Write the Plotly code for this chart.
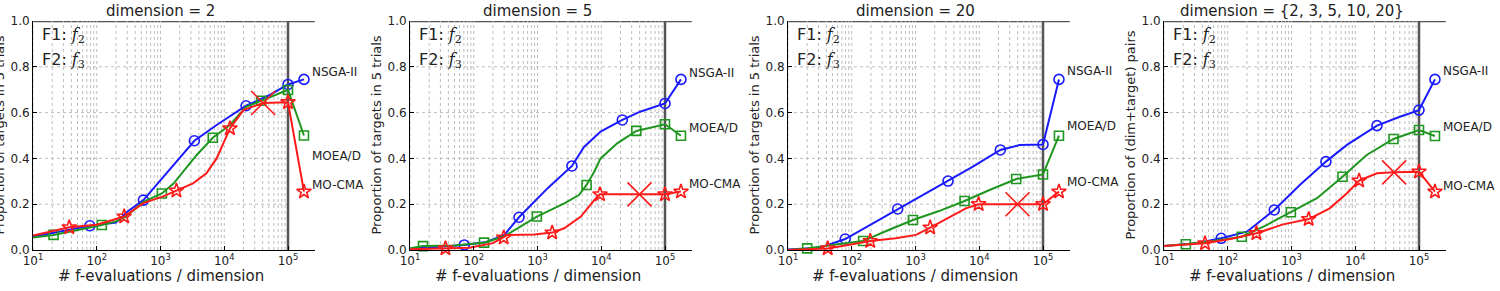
import plotly.graph_objects as go

# ---------------- data ----------------
PANEL_TITLES = ["dimension = 2", "dimension = 5", "dimension = 20", "dimension = {2, 3, 5, 10, 20}"]
Y_TITLES = ["Proportion of targets in 5 trials", "Proportion of targets in 5 trials",
            "Proportion of targets in 5 trials", "Proportion of (dim+target) pairs"]
ALGS = ["NSGA-II", "MOEA/D", "MO-CMA"]
X_TICKVALS = [10, 100, 1000, 10000, 100000]
X_TICKTEXT = ["10<sup>1</sup>", "10<sup>2</sup>", "10<sup>3</sup>", "10<sup>4</sup>", "10<sup>5</sup>"]
Y_TICKVALS = [0.0, 0.2, 0.4, 0.6, 0.8, 1.0]
Y_TICKTEXT = ["0.0", "0.2", "0.4", "0.6", "0.8", "1.0"]
BUDGET = 100000

# dimension = 2
D2_NSGA_X = [10, 78, 200, 300, 540, 1400, 3400, 7600, 22000, 52000, 100000, 178000]
D2_NSGA_Y = [0.058, 0.106, 0.12, 0.167, 0.218, 0.35, 0.477, 0.546, 0.63, 0.677, 0.723, 0.745]
D2_NSGA_MX = [78, 540, 3400, 22000, 100000, 178000]
D2_NSGA_MY = [0.106, 0.218, 0.477, 0.63, 0.723, 0.745]
D2_MOEA_X = [10, 21, 120, 200, 282, 540, 1050, 1600, 3700, 6600, 12300, 22000, 40700, 100000, 178000]
D2_MOEA_Y = [0.055, 0.066, 0.109, 0.125, 0.145, 0.21, 0.247, 0.29, 0.415, 0.49, 0.546, 0.625, 0.655, 0.699, 0.5]
D2_MOEA_MX = [21, 120, 1050, 6600, 38000, 100000, 178000]
D2_MOEA_MY = [0.066, 0.109, 0.247, 0.49, 0.652, 0.699, 0.5]
D2_MOCMA_X = [10, 37, 100, 269, 537, 1100, 1780, 3240, 5250, 7590, 12300, 20000, 40700, 100000, 178000]
D2_MOCMA_Y = [0.063, 0.099, 0.11, 0.146, 0.205, 0.234, 0.259, 0.291, 0.335, 0.40, 0.531, 0.611, 0.642, 0.645, 0.255]
D2_MOCMA_MX = [37, 269, 1780, 12300, 100000, 178000]
D2_MOCMA_MY = [0.099, 0.146, 0.259, 0.531, 0.645, 0.255]
D2_CROSS = [40700, 0.642]

# dimension = 5
D5_NSGA_X = [10, 71, 158, 302, 513, 1445, 3470, 5370, 9770, 21400, 40700, 100000, 178000]
D5_NSGA_Y = [0.005, 0.022, 0.035, 0.066, 0.143, 0.27, 0.367, 0.45, 0.517, 0.568, 0.604, 0.64, 0.745]
D5_NSGA_MX = [71, 513, 3470, 21400, 100000, 178000]
D5_NSGA_MY = [0.022, 0.143, 0.367, 0.568, 0.64, 0.745]
D5_MOEA_X = [10, 16, 50, 145, 302, 977, 2630, 4470, 5890, 7760, 9770, 17800, 35500, 100000, 178000]
D5_MOEA_Y = [0.008, 0.017, 0.02, 0.032, 0.06, 0.146, 0.204, 0.24, 0.284, 0.342, 0.40, 0.466, 0.52, 0.549, 0.499]
D5_MOEA_MX = [16, 145, 977, 5890, 35500, 100000, 178000]
D5_MOEA_MY = [0.017, 0.032, 0.146, 0.284, 0.52, 0.549, 0.499]
D5_MOCMA_X = [10, 36, 85, 200, 295, 339, 891, 1700, 2630, 4790, 7760, 9550, 100000, 178000]
D5_MOCMA_Y = [0.003, 0.007, 0.01, 0.03, 0.054, 0.066, 0.068, 0.076, 0.095, 0.146, 0.218, 0.243, 0.243, 0.255]
D5_MOCMA_MX = [36, 295, 1700, 9550, 100000, 178000]
D5_MOCMA_MY = [0.007, 0.054, 0.076, 0.243, 0.243, 0.255]
D5_CROSS = [39800, 0.243]

# dimension = 20
D20_NSGA_X = [10, 32, 79, 191, 525, 1445, 3240, 7940, 21400, 42700, 100000, 178000]
D20_NSGA_Y = [0.002, 0.01, 0.048, 0.109, 0.179, 0.248, 0.301, 0.364, 0.437, 0.458, 0.461, 0.745]
D20_NSGA_MX = [79, 525, 3240, 21400, 100000, 178000]
D20_NSGA_MY = [0.048, 0.179, 0.301, 0.437, 0.461, 0.745]
D20_MOEA_X = [10, 20, 42, 151, 347, 912, 2340, 5890, 14500, 38000, 100000, 178000]
D20_MOEA_Y = [0.0, 0.007, 0.02, 0.039, 0.083, 0.131, 0.17, 0.214, 0.262, 0.31, 0.33, 0.499]
D20_MOEA_MX = [20, 151, 912, 5890, 38000, 100000, 178000]
D20_MOEA_MY = [0.007, 0.039, 0.131, 0.214, 0.31, 0.33, 0.499]
D20_MOCMA_X = [10, 42, 102, 195, 490, 1020, 1700, 2690, 3800, 6170, 9770, 100000, 178000]
D20_MOCMA_Y = [0.0, 0.007, 0.025, 0.039, 0.051, 0.066, 0.098, 0.127, 0.15, 0.182, 0.2, 0.2, 0.255]
D20_MOCMA_MX = [42, 195, 1700, 9770, 100000, 178000]
D20_MOCMA_MY = [0.007, 0.039, 0.098, 0.2, 0.2, 0.255]
D20_CROSS = [39800, 0.2]

# dimension = all
DA_NSGA_X = [10, 32, 79, 200, 537, 1350, 3470, 7410, 21900, 50100, 100000, 178000]
DA_NSGA_Y = [0.017, 0.03, 0.051, 0.08, 0.175, 0.284, 0.386, 0.459, 0.543, 0.582, 0.611, 0.745]
DA_NSGA_MX = [79, 537, 3470, 21900, 100000, 178000]
DA_NSGA_MY = [0.051, 0.175, 0.386, 0.543, 0.611, 0.745]
DA_MOEA_X = [10, 22, 59, 166, 407, 977, 2510, 6310, 15100, 39800, 100000, 178000]
DA_MOEA_Y = [0.017, 0.025, 0.039, 0.058, 0.109, 0.165, 0.226, 0.32, 0.415, 0.485, 0.524, 0.498]
DA_MOEA_MX = [22, 166, 977, 6310, 39800, 100000, 178000]
DA_MOEA_MY = [0.025, 0.058, 0.165, 0.32, 0.485, 0.524, 0.498]
DA_MOCMA_X = [10, 44, 110, 282, 741, 1860, 3980, 7410, 11500, 21900, 40700, 100000, 178000]
DA_MOCMA_Y = [0.017, 0.029, 0.048, 0.073, 0.112, 0.135, 0.182, 0.248, 0.303, 0.335, 0.339, 0.342, 0.255]
DA_MOCMA_MX = [44, 282, 1860, 11500, 100000, 178000]
DA_MOCMA_MY = [0.029, 0.073, 0.135, 0.303, 0.342, 0.255]
DA_CROSS = [40700, 0.339]

# label heights (right of each panel)
LABEL_Y = [[0.777, 0.41, 0.284], [0.774, 0.531, 0.287], [0.783, 0.541, 0.298], [0.783, 0.535, 0.28]]

PANELS = [
    [(D2_NSGA_X, D2_NSGA_Y, D2_NSGA_MX, D2_NSGA_MY), (D2_MOEA_X, D2_MOEA_Y, D2_MOEA_MX, D2_MOEA_MY),
     (D2_MOCMA_X, D2_MOCMA_Y, D2_MOCMA_MX, D2_MOCMA_MY), D2_CROSS],
    [(D5_NSGA_X, D5_NSGA_Y, D5_NSGA_MX, D5_NSGA_MY), (D5_MOEA_X, D5_MOEA_Y, D5_MOEA_MX, D5_MOEA_MY),
     (D5_MOCMA_X, D5_MOCMA_Y, D5_MOCMA_MX, D5_MOCMA_MY), D5_CROSS],
    [(D20_NSGA_X, D20_NSGA_Y, D20_NSGA_MX, D20_NSGA_MY), (D20_MOEA_X, D20_MOEA_Y, D20_MOEA_MX, D20_MOEA_MY),
     (D20_MOCMA_X, D20_MOCMA_Y, D20_MOCMA_MX, D20_MOCMA_MY), D20_CROSS],
    [(DA_NSGA_X, DA_NSGA_Y, DA_NSGA_MX, DA_NSGA_MY), (DA_MOEA_X, DA_MOEA_Y, DA_MOEA_MX, DA_MOEA_MY),
     (DA_MOCMA_X, DA_MOCMA_Y, DA_MOCMA_MX, DA_MOCMA_MY), DA_CROSS],
]

# ---------------- style ----------------
W, H = 1500, 291
COLORS = ["#1a1aff", "#1f961f", "#ff1a1a"]
SYMBOLS = ["circle-open", "square-open", "star-open"]
MSIZES = [10, 9, 11]
FONT = "DejaVu Sans, Liberation Sans, sans-serif"
LEFT_PX = [33, 410, 788, 1164]
PX_PER_DEC = 63.75
XMIN_LOG, XMAX_LOG = 1.0, 5.42
TOP_PX, BOT_PX = 21, 250

fig = go.Figure()
shapes = []
annotations = []

grid_x = [m * 10 ** d for d in range(1, 5) for m in range(1, 10)] + [100000]

for i, panel in enumerate(PANELS):
    n = i + 1
    xa = "x" if n == 1 else f"x{n}"
    ya = "y" if n == 1 else f"y{n}"
    for a in range(3):
        lx, ly, mx, my = panel[a]
        fig.add_trace(go.Scatter(x=lx, y=ly, mode="lines", xaxis=xa, yaxis=ya,
                                 line=dict(color=COLORS[a], width=2), showlegend=False,
                                 cliponaxis=False, hoverinfo="skip"))
        fig.add_trace(go.Scatter(x=mx, y=my, mode="markers", xaxis=xa, yaxis=ya,
                                 marker=dict(symbol=SYMBOLS[a], size=MSIZES[a], color=COLORS[a],
                                             line=dict(color=COLORS[a], width=1.6)),
                                 showlegend=False, cliponaxis=False, name=ALGS[a]))
    cx, cy = panel[3]
    fig.add_trace(go.Scatter(x=[cx], y=[cy], mode="markers", xaxis=xa, yaxis=ya,
                             marker=dict(symbol="x-thin", size=24, color=COLORS[2],
                                         line=dict(color=COLORS[2], width=1.6)),
                             showlegend=False, cliponaxis=False))

    x0 = LEFT_PX[i]
    x1 = x0 + (XMAX_LOG - XMIN_LOG) * PX_PER_DEC
    layout_x = dict(type="log", range=[XMIN_LOG, XMAX_LOG], domain=[x0 / W, x1 / W],
                    anchor=ya, showgrid=False, zeroline=False, showline=True, automargin=False,
                    linecolor="black", linewidth=1, ticks="inside", ticklen=4,
                    tickcolor="black", tickvals=X_TICKVALS, ticktext=X_TICKTEXT,
                    tickfont=dict(size=12, color="#222", family=FONT))
    layout_y = dict(range=[0, 1], domain=[(H - BOT_PX) / H, (H - TOP_PX) / H], anchor=xa,
                    showgrid=False, zeroline=False, showline=True, linecolor="black",
                    linewidth=1, ticks="inside", ticklen=4, tickcolor="black", automargin=False,
                    tickvals=Y_TICKVALS, ticktext=Y_TICKTEXT,
                    tickfont=dict(size=12, color="#222", family=FONT))
    fig.update_layout({("xaxis" if n == 1 else f"xaxis{n}"): layout_x,
                       ("yaxis" if n == 1 else f"yaxis{n}"): layout_y})

    # grid lines (only up to the budget)
    for gx in grid_x:
        shapes.append(dict(type="line", xref=xa, yref=ya, x0=gx, x1=gx, y0=0, y1=1,
                           line=dict(color="#bdbdbd", width=1, dash="dot"), layer="below"))
    for gy in [0.2, 0.4, 0.6, 0.8]:
        shapes.append(dict(type="line", xref=xa, yref=ya, x0=10, x1=BUDGET, y0=gy, y1=gy,
                           line=dict(color="#bdbdbd", width=1, dash="dot"), layer="below"))
    # budget line and top line
    shapes.append(dict(type="line", xref=xa, yref=ya, x0=BUDGET, x1=BUDGET, y0=0, y1=1,
                       line=dict(color="#555555", width=2.5), layer="below"))
    shapes.append(dict(type="line", xref=f"{xa} domain", yref=ya, x0=0, x1=1, y0=1, y1=1,
                       line=dict(color="#555555", width=2.5), layer="below"))

    # algorithm labels
    for a in range(3):
        annotations.append(dict(x=5.34, y=LABEL_Y[i][a], xref=xa, yref=ya, text=ALGS[a],
                                showarrow=False, xanchor="left", yanchor="middle",
                                font=dict(size=12, color="#222", family=FONT)))
    # function labels
    fx = (x0 + 7) / W
    annotations.append(dict(x=fx, y=(H - 35) / H, xref="paper", yref="paper",
                            text="F1: <span style='font-family:DejaVu Serif'><i>f</i><sub>2</sub></span>",
                            showarrow=False, xanchor="left", yanchor="middle",
                            font=dict(size=16, color="#222", family=FONT)))
    annotations.append(dict(x=fx, y=(H - 60) / H, xref="paper", yref="paper",
                            text="F2: <span style='font-family:DejaVu Serif'><i>f</i><sub>3</sub></span>",
                            showarrow=False, xanchor="left", yanchor="middle",
                            font=dict(size=16, color="#222", family=FONT)))
    # title (centred over 10^1..10^5)
    cxp = (x0 + 2 * PX_PER_DEC) / W
    annotations.append(dict(x=cxp, y=(H - 11) / H, xref="paper", yref="paper",
                            text=PANEL_TITLES[i], showarrow=False, xanchor="center",
                            yanchor="middle", font=dict(size=15, color="#222", family=FONT)))
    # x title
    annotations.append(dict(x=cxp, y=(H - 276) / H, xref="paper", yref="paper",
                            text="# f-evaluations / dimension", showarrow=False,
                            xanchor="center", yanchor="middle",
                            font=dict(size=15, color="#222", family=FONT)))
    # y title
    annotations.append(dict(x=(x0 - 34) / W, y=(H - (TOP_PX + BOT_PX) / 2) / H,
                            xref="paper", yref="paper", text=Y_TITLES[i], textangle=-90,
                            showarrow=False, xanchor="center", yanchor="middle",
                            font=dict(size=13, color="#222", family=FONT)))

fig.update_layout(width=W, height=H, margin=dict(l=0, r=0, t=0, b=0, pad=0),
                  paper_bgcolor="white", plot_bgcolor="white", showlegend=False,
                  shapes=shapes, annotations=annotations,
                  font=dict(family=FONT, color="#222"))

fig.write_html("out.html", config={"displayModeBar": False})
